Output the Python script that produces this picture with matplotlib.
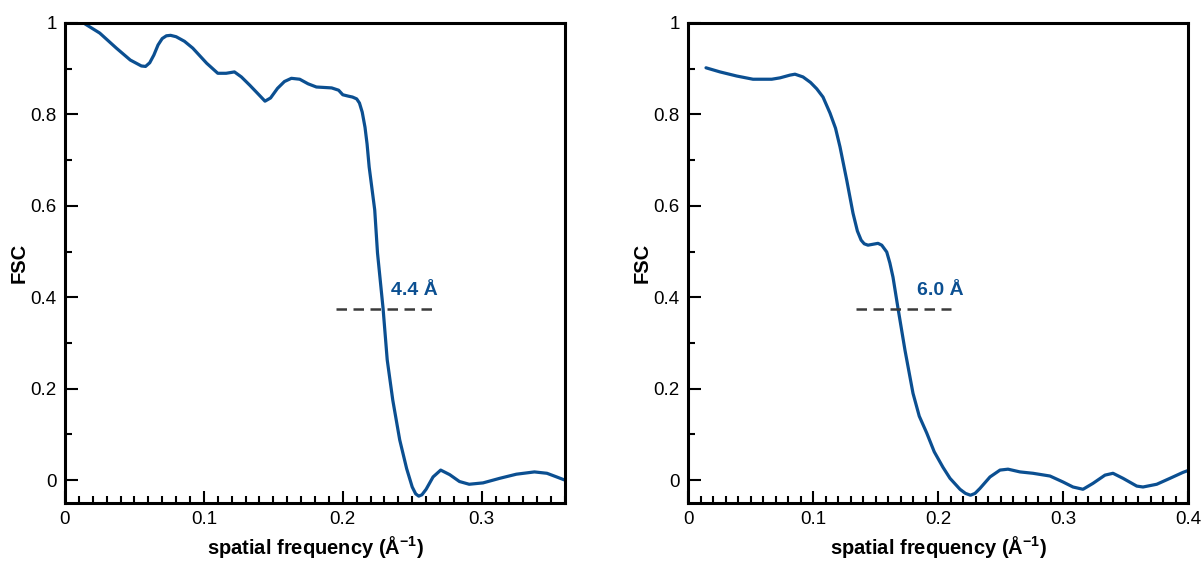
import numpy as np
import matplotlib
matplotlib.use("Agg")
import matplotlib.pyplot as plt
from matplotlib.ticker import MultipleLocator, FuncFormatter

plt.rcParams['font.family'] = ['Liberation Sans Narrow', 'Liberation Sans', 'DejaVu Sans']

CURVE_COLOR = '#0b4f91'
DASH_COLOR = '#3a3a3a'

# left panel: FSC curve
freq_a = [0.0144, 0.025, 0.037, 0.047, 0.055, 0.058, 0.061, 0.064, 0.067, 0.070,
          0.073, 0.076, 0.080, 0.086, 0.092, 0.102, 0.110, 0.116, 0.122, 0.127,
          0.133, 0.139, 0.144, 0.148, 0.153, 0.158, 0.163, 0.169, 0.175, 0.181,
          0.192, 0.197, 0.200, 0.204, 0.207, 0.210, 0.212, 0.214, 0.216, 0.2175,
          0.219, 0.223, 0.225, 0.229, 0.232, 0.236, 0.241, 0.246, 0.250, 0.2525,
          0.2547, 0.257, 0.260, 0.265, 0.2705, 0.277, 0.284, 0.291, 0.301, 0.313,
          0.325, 0.338, 0.347, 0.354, 0.360]
fsc_a = [0.998, 0.978, 0.945, 0.919, 0.906, 0.905, 0.913, 0.930, 0.952, 0.966,
         0.972, 0.973, 0.970, 0.960, 0.945, 0.912, 0.890, 0.890, 0.893, 0.882,
         0.864, 0.845, 0.829, 0.836, 0.857, 0.872, 0.879, 0.877, 0.867, 0.860,
         0.858, 0.853, 0.843, 0.840, 0.838, 0.834, 0.825, 0.805, 0.772, 0.735,
         0.685, 0.591, 0.497, 0.376, 0.263, 0.175, 0.088, 0.025, -0.015, -0.030,
         -0.035, -0.032, -0.020, 0.007, 0.022, 0.012, -0.003, -0.009, -0.006, 0.004,
         0.013, 0.018, 0.015, 0.007, 0.000]

# right panel
freq_b = [0.0144, 0.0256, 0.039, 0.052, 0.067, 0.0736, 0.0816, 0.0856, 0.092, 0.098,
          0.103, 0.108, 0.1136, 0.118, 0.1216, 0.127, 0.132, 0.1355, 0.1385, 0.141,
          0.144, 0.148, 0.152, 0.155, 0.159, 0.1615, 0.164, 0.168, 0.1736, 0.180,
          0.185, 0.191, 0.197, 0.204, 0.2096, 0.2176, 0.222, 0.226, 0.2296, 0.2336,
          0.2416, 0.2496, 0.256, 0.2656, 0.276, 0.2896, 0.300, 0.308, 0.316, 0.324,
          0.3336, 0.340, 0.348, 0.359, 0.364, 0.375, 0.3856, 0.396, 0.400]
fsc_b = [0.902, 0.893, 0.884, 0.877, 0.877, 0.880, 0.886, 0.888, 0.882, 0.870,
         0.856, 0.838, 0.803, 0.770, 0.729, 0.656, 0.584, 0.545, 0.525, 0.517,
         0.514, 0.516, 0.518, 0.514, 0.499, 0.475, 0.444, 0.376, 0.284, 0.190,
         0.140, 0.103, 0.062, 0.028, 0.004, -0.020, -0.029, -0.033, -0.029, -0.018,
         0.007, 0.022, 0.024, 0.018, 0.015, 0.009, -0.004, -0.015, -0.020, -0.007,
         0.011, 0.015, 0.004, -0.013, -0.015, -0.009, 0.004, 0.017, 0.021]

panels = [
    dict(x=freq_a, y=fsc_a, xmax=0.36, cut=0.375, dash=(0.195, 0.264),
         label='4.4 Å', label_xy=(0.235, 0.405)),
    dict(x=freq_b, y=fsc_b, xmax=0.4, cut=0.375, dash=(0.134, 0.210),
         label='6.0 Å', label_xy=(0.183, 0.405)),
]

fig = plt.figure(figsize=(12.04, 5.62), dpi=100)
positions = [[65/1204, 59/562, 500/1204, 480/562],
             [688/1204, 59/562, 500/1204, 480/562]]

fmt = FuncFormatter(lambda v, p: '%g' % round(v, 3))

for pos, p in zip(positions, panels):
    ax = fig.add_axes(pos)
    ax.plot(p['x'], p['y'], color=CURVE_COLOR, lw=2.3, solid_capstyle='round',
            solid_joinstyle='round')
    ax.plot(p['dash'], [p['cut'], p['cut']], color=DASH_COLOR, lw=1.8,
            dashes=(4.2, 2.6))
    ax.text(p['label_xy'][0], p['label_xy'][1], p['label'], color=CURVE_COLOR,
            fontsize=14, fontweight='bold')

    ax.set_xlim(0, p['xmax'])
    ax.set_ylim(-0.05, 1.0)
    ax.xaxis.set_major_locator(MultipleLocator(0.1))
    ax.xaxis.set_minor_locator(MultipleLocator(0.01))
    ax.yaxis.set_major_locator(MultipleLocator(0.2))
    ax.yaxis.set_minor_locator(MultipleLocator(0.1))
    ax.xaxis.set_major_formatter(fmt)
    ax.yaxis.set_major_formatter(fmt)
    ax.tick_params(which='both', direction='in', top=False, right=False,
                   width=1.5, labelsize=13.5, pad=6)
    ax.tick_params(which='major', length=9)
    ax.tick_params(which='minor', length=5)
    for s in ax.spines.values():
        s.set_linewidth(2.2)

    ax.set_xlabel('spatial frequency (Å$^{\\mathregular{-1}}$)', fontsize=14.5,
                  fontweight='bold', labelpad=4)
    ax.set_ylabel('FSC', fontsize=14.5, fontweight='bold', labelpad=1)

fig.savefig('out.png', dpi=100)
